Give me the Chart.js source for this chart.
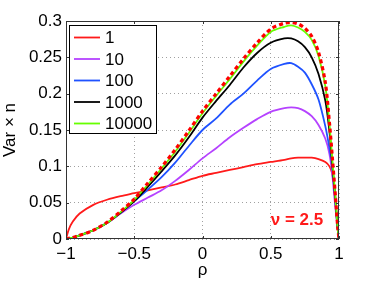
<!DOCTYPE html>
<html>
<head>
<meta charset="utf-8">
<script src="https://cdn.jsdelivr.net/npm/chart.js@4/dist/chart.umd.min.js"></script>
<style>
  html, body { margin: 0; padding: 0; background: #fff; }
  #wrap { width: 374px; height: 281px; }
</style>
</head>
<body>
<div id="wrap"><canvas id="varChart" width="374" height="281"></canvas></div>
<script>
// rho values shared by every curve
const rho = [-1, -0.98, -0.95, -0.9, -0.8, -0.7, -0.6, -0.5, -0.4, -0.3, -0.2, -0.1, 0,
  0.1, 0.2, 0.3, 0.4, 0.5, 0.6, 0.65, 0.7, 0.75, 0.8, 0.85, 0.9, 0.93, 0.95, 0.97, 0.99, 1];

// Var x n for each n
const n1     = [0, 0.013, 0.024, 0.035, 0.047, 0.054, 0.059, 0.063, 0.067, 0.071, 0.075, 0.081, 0.087,
  0.091, 0.095, 0.099, 0.103, 0.106, 0.109, 0.111, 0.112, 0.112, 0.112, 0.110, 0.106, 0.100, 0.090, 0.065, 0.020, 0];
const n10    = [0, 0.001, 0.002, 0.005, 0.012, 0.022, 0.035, 0.047, 0.057, 0.067, 0.080, 0.095, 0.111,
  0.125, 0.140, 0.153, 0.165, 0.175, 0.180, 0.181, 0.180, 0.176, 0.169, 0.157, 0.138, 0.117, 0.090, 0.050, 0.015, 0];
const n100   = [0, 0.001, 0.002, 0.005, 0.012, 0.022, 0.036, 0.052, 0.068, 0.085, 0.105, 0.128, 0.150,
  0.166, 0.185, 0.200, 0.218, 0.234, 0.241, 0.242, 0.237, 0.229, 0.213, 0.192, 0.155, 0.125, 0.100, 0.060, 0.015, 0];
const n1000  = [0, 0.001, 0.002, 0.005, 0.012, 0.022, 0.036, 0.052, 0.072, 0.093, 0.115, 0.140, 0.167,
  0.190, 0.212, 0.236, 0.256, 0.270, 0.276, 0.276, 0.272, 0.264, 0.250, 0.227, 0.190, 0.148, 0.105, 0.062, 0.015, 0];
const n10000 = [0, 0.001, 0.002, 0.005, 0.012, 0.022, 0.037, 0.054, 0.075, 0.097, 0.120, 0.146, 0.173,
  0.197, 0.220, 0.244, 0.266, 0.285, 0.292, 0.294, 0.291, 0.285, 0.274, 0.252, 0.210, 0.158, 0.112, 0.066, 0.015, 0];
const limit  = [0, 0.001, 0.002, 0.005, 0.012, 0.023, 0.038, 0.055, 0.077, 0.099, 0.123, 0.149, 0.176,
  0.200, 0.224, 0.248, 0.270, 0.289, 0.297, 0.298, 0.296, 0.290, 0.279, 0.257, 0.215, 0.160, 0.115, 0.068, 0.018, 0];

const seriesNames = ['1', '10', '100', '1000', '10000'];
const seriesColors = ['#ff1a1a', '#b542ff', '#1f52ff', '#000000', '#66ff00'];
const seriesValues = [n1, n10, n100, n1000, n10000];

const xTicks = [-1, -0.5, 0, 0.5, 1];
const yTicks = [0, 0.05, 0.1, 0.15, 0.2, 0.25, 0.3];

const FONT = 'Liberation Sans, Arial, Helvetica, sans-serif';

const toPts = ys => ys.map((y, i) => ({x: rho[i], y: y}));

const datasets = seriesValues.map((vals, i) => ({
  label: seriesNames[i],
  data: toPts(vals),
  borderColor: seriesColors[i],
  borderWidth: 1.8,
  pointRadius: 0,
  tension: 0.3,
  order: 5 - i
}));
datasets.push({
  label: 'limit',
  data: toPts(limit),
  borderColor: '#ff0000',
  borderWidth: 3.2,
  borderDash: [4, 3],
  pointRadius: 0,
  tension: 0.3,
  order: 0
});

const minus = v => (v < 0 ? '\u2212' + Math.abs(v) : String(v));

// frame, inner ticks, legend box and nu label
const extras = {
  id: 'extras',
  afterDatasetsDraw(chart) {
    const ctx = chart.ctx, a = chart.chartArea;
    const xs = chart.scales.x, ys = chart.scales.y;
    ctx.save();
    ctx.strokeStyle = '#333';
    ctx.lineWidth = 1;
    ctx.setLineDash([]);
    ctx.strokeRect(a.left + 0.5, a.top + 0.5, a.right - a.left - 1, a.bottom - a.top - 1);
    ctx.beginPath();
    xTicks.forEach(t => {
      const px = Math.round(xs.getPixelForValue(t)) + 0.5;
      ctx.moveTo(px, a.bottom); ctx.lineTo(px, a.bottom - 3);
      ctx.moveTo(px, a.top); ctx.lineTo(px, a.top + 3);
    });
    yTicks.forEach(t => {
      const py = Math.round(ys.getPixelForValue(t)) + 0.5;
      ctx.moveTo(a.left, py); ctx.lineTo(a.left + 3, py);
      ctx.moveTo(a.right, py); ctx.lineTo(a.right - 3, py);
    });
    ctx.stroke();

    // legend
    const bx = 69, by = 25, bw = 87, bh = 108;
    ctx.fillStyle = '#fff';
    ctx.fillRect(bx, by, bw, bh);
    ctx.strokeStyle = '#000';
    ctx.strokeRect(bx + 0.5, by + 0.5, bw, bh);
    ctx.font = '17px ' + FONT;
    ctx.textBaseline = 'middle';
    ctx.textAlign = 'left';
    seriesNames.forEach((name, i) => {
      const yy = 37.5 + i * 21.5;
      ctx.strokeStyle = seriesColors[i];
      ctx.lineWidth = 1.8;
      ctx.beginPath();
      ctx.moveTo(74, yy); ctx.lineTo(100, yy);
      ctx.stroke();
      ctx.fillStyle = '#000';
      ctx.fillText(name, 105, yy + 1);
    });

    // nu label
    ctx.fillStyle = '#ff1a1a';
    ctx.font = 'bold 17px ' + FONT;
    ctx.textBaseline = 'middle';
    ctx.fillText('\u03bd = 2.5', xs.getPixelForValue(0.5), ys.getPixelForValue(0.026));
    ctx.restore();
  }
};

new Chart(document.getElementById('varChart'), {
  type: 'line',
  data: { datasets: datasets },
  options: {
    responsive: false,
    animation: false,
    layout: { padding: { left: 0, top: 21, right: 35, bottom: 0 } },
    plugins: { legend: { display: false }, tooltip: { enabled: false } },
    scales: {
      x: {
        type: 'linear', min: -1, max: 1,
        afterFit: s => { s.height = 42; },
        afterBuildTicks: s => { s.ticks = xTicks.map(v => ({value: v})); },
        ticks: { autoSkip: false, maxRotation: 0, padding: 5, color: '#000',
          font: { family: FONT, size: 17 }, callback: v => minus(v) },
        grid: { color: '#a0a0a0', drawTicks: false, lineWidth: 1 },
        border: { display: false, dash: [1, 3] },
        title: { display: true, text: '\u03c1', color: '#000', padding: { top: 0, bottom: 0 },
          font: { family: FONT, size: 17 } }
      },
      y: {
        min: 0, max: 0.3,
        afterFit: s => { s.width = 66; },
        afterBuildTicks: s => { s.ticks = yTicks.map(v => ({value: v})); },
        ticks: { autoSkip: false, padding: 4, color: '#000',
          font: { family: FONT, size: 17 }, callback: v => String(parseFloat(v.toFixed(2))) },
        grid: { color: '#a0a0a0', drawTicks: false, lineWidth: 1 },
        border: { display: false, dash: [1, 3] },
        title: { display: true, text: 'Var \u00d7 n', color: '#000', padding: { top: 0, bottom: 2 },
          font: { family: FONT, size: 17 } }
      }
    }
  },
  plugins: [extras]
});
</script>
</body>
</html>
